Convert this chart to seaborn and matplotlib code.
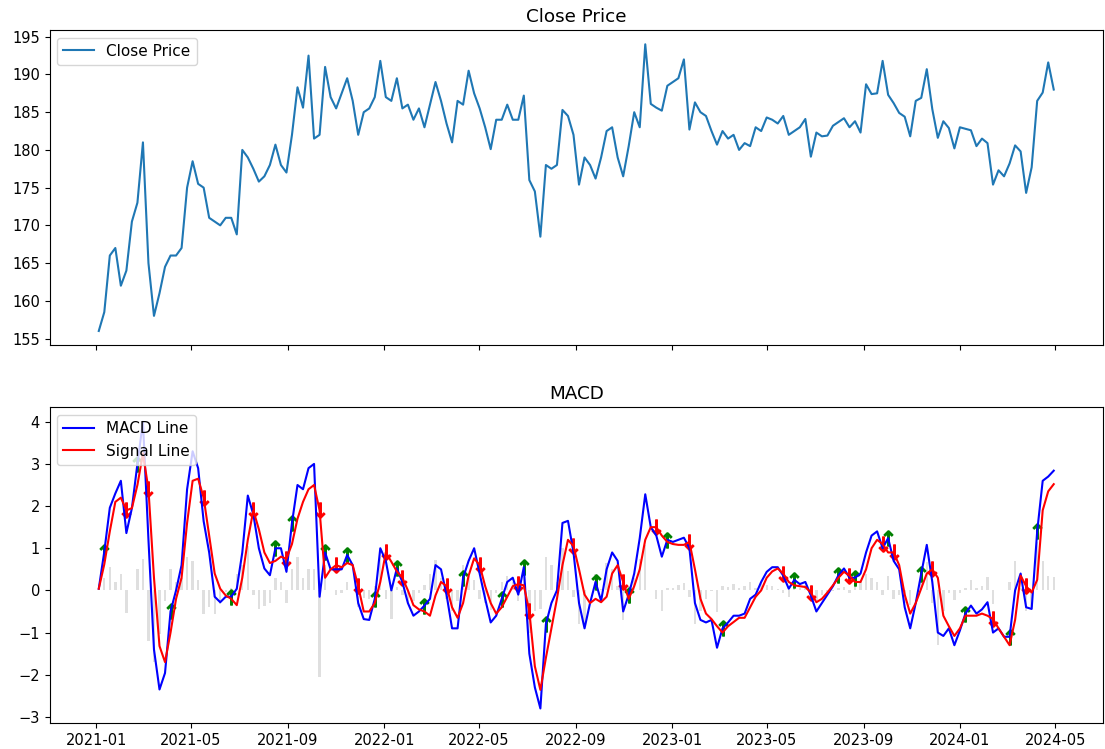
import pandas as pd
import numpy as np
import seaborn as sns
import matplotlib.pyplot as plt
import matplotlib.dates as mdates

# Datos (un valor por semana desde 2021-01-04)
start_date = "2021-01-04"

close = [156, 158.5, 166, 167, 162, 164, 170.5, 173, 181, 165,
         158, 161, 164.5, 166, 166, 167, 175, 178.5, 175.5, 175,
         171, 170.5, 170, 171, 171, 168.8, 180, 179, 177.5, 175.8,
         176.5, 178, 180.7, 178, 177, 182, 188.3, 185.6, 192.5, 181.5,
         182, 191, 187, 185.5, 187.5, 189.5, 186.5, 182, 185, 185.5,
         187, 191.8, 187, 186.5, 189.5, 185.5, 186, 184, 185.5, 183,
         186, 189, 186.5, 183.5, 181, 186.5, 186, 190.5, 187.5, 185.5,
         183, 180.1, 184, 184, 186, 184, 184, 187.2, 176, 174.5,
         168.5, 178, 177.5, 178, 185.3, 184.5, 182, 175.4, 179, 178,
         176.2, 179, 182.5, 183, 179, 176.5, 180.5, 185, 183, 194,
         186.1, 185.6, 185.2, 188.5, 189, 189.5, 192, 182.7, 186.3, 185,
         184.5, 182.5, 180.7, 182.5, 181.5, 182, 180, 180.9, 180.5, 183,
         182.5, 184.3, 184, 183.5, 184.5, 182, 182.5, 183, 184.1, 179.1,
         182.3, 181.8, 181.9, 183.2, 183.7, 184.2, 183, 183.8, 182.3, 188.7,
         187.4, 187.5, 191.8, 187.3, 186.2, 184.9, 184.4, 181.8, 186.5, 186.9,
         190.7, 185.4, 181.6, 183.8, 182.9, 180.2, 183, 182.8, 182.6, 180.5,
         181.5, 180.9, 175.4, 177.3, 176.5, 178.2, 180.6, 179.8, 174.3, 177.7,
         186.5, 187.6, 191.6, 188]

macd_line = [0.04, 0.92, 1.96, 2.3, 2.6, 1.36, 1.95, 3.0, 4.0, 1.2,
             -1.4, -2.35, -1.96, -0.5, 0.0, 0.6, 2.4, 3.3, 2.9, 1.64,
             0.9, -0.15, -0.28, -0.15, -0.15, 0.04, 0.9, 2.25, 1.8, 1.0,
             0.52, 0.36, 1.0, 1.0, 0.44, 1.6, 2.5, 2.4, 2.9, 3.0,
             -0.15, 0.9, 0.5, 0.5, 0.5, 0.84, 0.6, -0.3, -0.68, -0.7,
             -0.2, 1.0, 0.7, 0.0, 0.52, 0.2, -0.3, -0.6, -0.5, -0.36,
             -0.2, 0.6, 0.5, -0.1, -0.9, -0.9, 0.3, 0.7, 1.0, 0.4,
             -0.2, -0.76, -0.6, -0.2, 0.2, 0.3, -0.1, 0.55, -1.5, -2.3,
             -2.8, -0.8, -0.3, 0.0, 1.6, 1.65, 0.9, -0.3, -0.9, -0.3,
             0.2, -0.25, 0.5, 0.9, 0.7, -0.5, -0.1, 0.4, 1.24, 2.28,
             1.5, 1.3, 0.8, 1.2, 1.15, 1.2, 1.25, 1.0, -0.3, -0.7,
             -0.76, -0.7, -1.36, -0.9, -0.76, -0.6, -0.6, -0.55, -0.2, -0.1,
             0.2, 0.44, 0.55, 0.55, 0.35, 0.04, 0.25, 0.15, 0.2, -0.12,
             -0.5, -0.3, -0.1, 0.1, 0.36, 0.52, 0.3, 0.3, 0.4, 0.9,
             1.3, 1.4, 1.0, 1.24, 0.7, 0.5, -0.4, -0.9, -0.3, 0.4,
             1.08, 0.2, -1.0, -1.08, -0.9, -1.3, -0.95, -0.55, -0.36, -0.55,
             -0.45, -0.28, -1.0, -0.9, -1.1, -1.1, 0.0, 0.4, -0.4, -0.44,
             1.4, 2.6, 2.7, 2.84]

signal_line = [0.04, 0.62, 1.4, 2.1, 2.2, 1.9, 1.95, 2.5, 3.25, 2.4,
               0.3, -1.32, -1.7, -1.0, -0.2, 0.3, 1.6, 2.6, 2.65, 2.2,
               1.3, 0.4, 0.04, -0.12, -0.2, -0.35, 0.3, 1.2, 1.9, 1.45,
               0.9, 0.65, 0.7, 0.8, 0.75, 1.1, 1.7, 2.1, 2.4, 2.5,
               1.9, 0.3, 0.5, 0.6, 0.55, 0.65, 0.6, 0.1, -0.5, -0.5,
               -0.3, 0.2, 0.9, 0.68, 0.45, 0.3, 0.0, -0.35, -0.45, -0.5,
               -0.6, -0.12, 0.2, 0.1, -0.4, -0.65, -0.3, 0.35, 0.76, 0.6,
               0.1, -0.3, -0.55, -0.4, -0.15, 0.1, 0.15, 0.12, -0.5, -1.8,
               -2.36, -1.6, -0.9, -0.2, 0.6, 1.2, 1.05, 0.5, -0.1, -0.3,
               -0.2, -0.28, -0.15, 0.4, 0.6, 0.2, -0.2, 0.1, 0.5, 1.2,
               1.5, 1.5, 1.3, 1.15, 1.1, 1.08, 1.08, 1.15, 0.5, -0.2,
               -0.55, -0.68, -0.85, -1.0, -0.85, -0.75, -0.65, -0.65, -0.4, -0.15,
               0.0, 0.3, 0.45, 0.52, 0.4, 0.2, 0.12, 0.1, 0.08, -0.05,
               -0.28, -0.2, -0.05, 0.12, 0.3, 0.44, 0.35, 0.2, 0.2, 0.5,
               1.0, 1.2, 1.1, 0.9, 0.9, 0.6, -0.1, -0.55, -0.3, 0.05,
               0.4, 0.5, 0.3, -0.6, -0.85, -1.08, -0.9, -0.6, -0.6, -0.6,
               -0.55, -0.6, -0.68, -0.9, -1.1, -1.3, -0.7, 0.35, 0.1, -0.05,
               0.25, 1.9, 2.35, 2.52]

# Armamos el dataframe
fechas = pd.date_range(start_date, periods=len(close), freq="7D")
df = pd.DataFrame({"Date": fechas, "Close": close,
                   "MACD": macd_line, "Signal": signal_line})
df["Hist"] = df["MACD"] - df["Signal"]

# Cruces: compra cuando MACD cruza hacia arriba, venta hacia abajo
prev = df["Hist"].shift(1)
compras = df[(df["Hist"] > 0) & (prev <= 0)]
ventas = df[(df["Hist"] < 0) & (prev >= 0)]

plt.rcParams["font.size"] = 11
plt.rcParams["xtick.labelsize"] = 10.5
plt.rcParams["ytick.labelsize"] = 10.5

fig, (ax1, ax2) = plt.subplots(2, 1, figsize=(11.05, 7.49), dpi=100, sharex=True)
fig.subplots_adjust(left=0.045, right=0.998, top=0.96, bottom=0.035, hspace=0.197)

# Grafico de precio
sns.lineplot(data=df, x="Date", y="Close", ax=ax1, color="#1f77b4",
             linewidth=1.5, label="Close Price")
ax1.set_title("Close Price")
ax1.set_xlabel("")
ax1.set_ylabel("")
ax1.legend(loc="upper left")

# Grafico MACD
ax2.bar(df["Date"], df["Hist"], width=3, color="gray", alpha=0.25)
sns.lineplot(data=df, x="Date", y="MACD", ax=ax2, color="blue",
             linewidth=1.5, label="MACD Line")
sns.lineplot(data=df, x="Date", y="Signal", ax=ax2, color="red",
             linewidth=1.5, label="Signal Line")
sns.scatterplot(data=compras, x="Date", y="MACD", ax=ax2, marker=r"$\uparrow$",
                color="green", edgecolor="green", s=120, legend=False)
sns.scatterplot(data=ventas, x="Date", y="Signal", ax=ax2, marker=r"$\downarrow$",
                color="red", edgecolor="red", s=120, legend=False)
ax2.set_title("MACD")
ax2.set_xlabel("")
ax2.set_ylabel("")
ax2.legend(loc="upper left")

ax2.xaxis.set_major_locator(mdates.MonthLocator(bymonth=[1, 5, 9]))
ax2.xaxis.set_major_formatter(mdates.DateFormatter("%Y-%m"))
ax1.set_yticks(np.arange(155, 196, 5))
ax2.set_yticks(np.arange(-3, 5, 1))

plt.savefig("out.png", dpi=100)
